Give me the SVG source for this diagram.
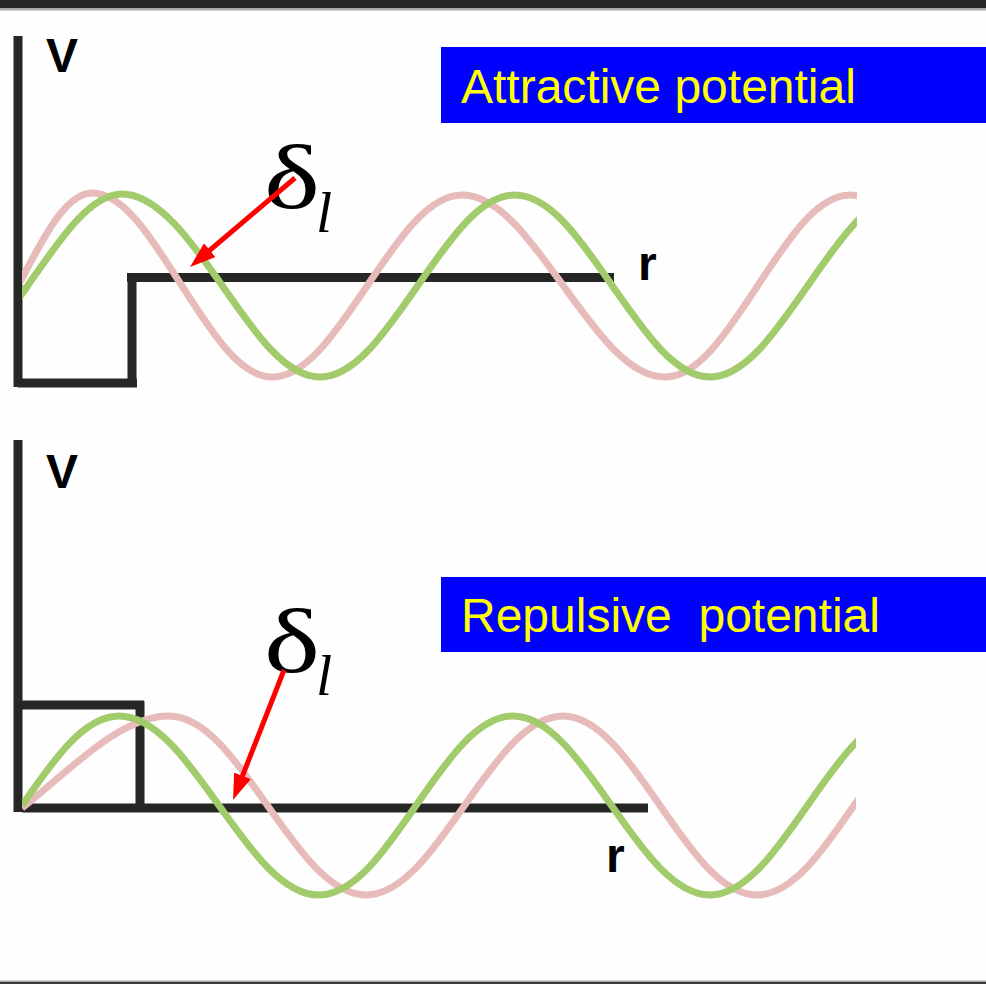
<svg xmlns="http://www.w3.org/2000/svg" width="986" height="984" viewBox="0 0 986 984">
  <style>
    .axis { stroke: #262626; stroke-width: 9; fill: none; stroke-linecap: butt; }
    .green { stroke: #a2cb6c; stroke-width: 7; fill: none; }
    .pink { stroke: #e8bbbb; stroke-width: 7; fill: none; }
    .arrow { stroke: #ff0000; stroke-width: 5; fill: none; }
    .axlbl { font-family: "Liberation Sans", Arial, sans-serif; font-weight: bold; font-size: 48px; fill: #000; }
    .title { font-family: "Liberation Sans", Arial, sans-serif; font-size: 48px; fill: #ffff00; white-space: pre; }
    .delta { font-family: "Liberation Serif", "Times New Roman", serif; font-size: 92px; fill: #000; }
    .sub { font-family: "Liberation Serif", "Times New Roman", serif; font-style: italic; font-size: 58px; fill: #000; }
    .box { fill: #0000ff; }
  </style>
  <defs>
    <marker id="head" markerUnits="userSpaceOnUse" viewBox="0 0 26 18" markerWidth="26" markerHeight="18" refX="2" refY="9" orient="auto">
      <path d="M0 0 L26 9 L0 18 Z" fill="#ff0000"/>
    </marker>
    <clipPath id="clipTop"><rect x="22" y="150" width="835" height="260"/></clipPath>
    <clipPath id="clipBot"><rect x="22" y="680" width="834" height="240"/></clipPath>
  </defs>

  <rect x="0" y="0" width="986" height="984" fill="#fefefe"/>
  <g id="frame">
    <rect x="0" y="0" width="986" height="8" fill="#262626"/>
    <rect x="0" y="8" width="986" height="2.5" fill="#a8a8a8"/>
    <rect x="0" y="980.5" width="986" height="1.5" fill="#a8a8a8"/>
    <rect x="0" y="982" width="986" height="2" fill="#3a3a3a"/>
  </g>

  <!-- Top panel: attractive potential -->
  <g id="top-potential">
    <line class="axis" x1="18" y1="36" x2="18" y2="387"/>
    <line class="axis" x1="18" y1="383" x2="137" y2="383"/>
    <line class="axis" x1="132" y1="387" x2="132" y2="273"/>
    <line class="axis" x1="127" y1="277.5" x2="614" y2="277.5"/>
  </g>
  <g id="top-waves" clip-path="url(#clipTop)">
    <path id="top-pink" class="pink" d="M18 286 C42 240.4, 65 193, 92 193 C124.6 193, 152.7 240.4, 182 286 C211.3 331.6, 239.4 377, 272 377 C306.4 377, 336 331.6, 367 286 C398 240.4, 427.6 195, 462 195 C498.7 195, 530.4 240.4, 563.5 286 C596.6 331.6, 628.3 377, 665 377 C698.5 377, 727.3 331.6, 757.5 286 C787.7 240.4, 816.5 195, 850 195 C884.4 195, 914 240.4, 945 286"/>
    <path id="top-green" class="green" d="M-70 377 C-34.7 377, -4.3 331.6, 27.5 286 C59.3 240.4, 89.7 194, 122 194 C157.3 194, 190.7 240.4, 222.5 286 C254.3 331.6, 284.7 377, 320 377 C355.3 377, 385.7 331.6, 417.5 286 C449.3 240.4, 479.7 195, 515 195 C550.3 195, 580.7 240.4, 612.5 286 C644.3 331.6, 674.7 377, 710 377 C745.3 377, 775.7 331.6, 807.5 286 C839.3 240.4, 869.7 195, 905 195"/>
  </g>
  <g id="top-labels">
    <text class="axlbl" x="46" y="72">V</text>
    <text class="axlbl" x="638" y="280">r</text>
  </g>
  <g id="top-title">
    <rect class="box" x="441" y="47" width="545" height="76"/>
    <text class="title" x="461" y="103">Attractive potential</text>
  </g>
  <g id="top-delta">
    <text class="delta" x="264" y="208" textLength="56" lengthAdjust="spacingAndGlyphs">δ</text>
    <text class="sub" x="316" y="232">l</text>
  </g>

  <!-- Bottom panel: repulsive potential -->
  <g id="bottom-potential">
    <line class="axis" x1="18" y1="440" x2="18" y2="812"/>
    <line class="axis" x1="18" y1="705" x2="144" y2="705"/>
    <line class="axis" x1="140" y1="701" x2="140" y2="808"/>
    <line class="axis" x1="22" y1="808" x2="648" y2="808"/>
  </g>
  <g id="bottom-waves" clip-path="url(#clipBot)">
    <path id="bottom-pink" class="pink" d="M22 808 C70 770, 120 716, 169 716 C204.6 716, 235.4 759.7, 267.5 805.5 C299.6 851.3, 330.4 895, 366 895 C401.6 895, 432.4 851.3, 464.5 805.5 C496.6 759.7, 527.4 716, 563 716 C598.1 716, 628.4 759.7, 660 805.5 C691.6 851.3, 721.9 895, 757 895 C792.1 895, 822.4 851.3, 854 805.5 C885.6 759.7, 915.9 716, 951 716"/>
    <path id="bottom-green" class="green" d="M22 805.5 C53.6 759.7, 83.9 716, 119 716 C155.2 716, 186.4 759.7, 219 805.5 C251.6 851.3, 282.8 895, 319 895 C354.1 895, 384.4 851.3, 416 805.5 C447.6 759.7, 477.9 716, 513 716 C548.6 716, 579.4 759.7, 611.5 805.5 C643.6 851.3, 674.4 895, 710 895 C745.3 895, 775.7 851.3, 807.5 805.5 C839.3 759.7, 869.7 716, 905 716"/>
  </g>
  <g id="bottom-labels">
    <text class="axlbl" x="46" y="488">V</text>
    <text class="axlbl" x="606" y="872">r</text>
  </g>
  <g id="bottom-title">
    <rect class="box" x="441" y="577" width="545" height="75"/>
    <text class="title" x="461" y="632">Repulsive  potential</text>
  </g>
  <g id="bottom-delta">
    <text class="delta" x="264" y="672" textLength="56" lengthAdjust="spacingAndGlyphs">δ</text>
    <text class="sub" x="316" y="695">l</text>
  </g>

  <g id="connectors">
    <line class="arrow" x1="295" y1="178" x2="208.3" y2="251.5" marker-end="url(#head)"/>
    <line class="arrow" x1="284" y1="670" x2="241.8" y2="777.7" marker-end="url(#head)"/>
  </g>
</svg>
